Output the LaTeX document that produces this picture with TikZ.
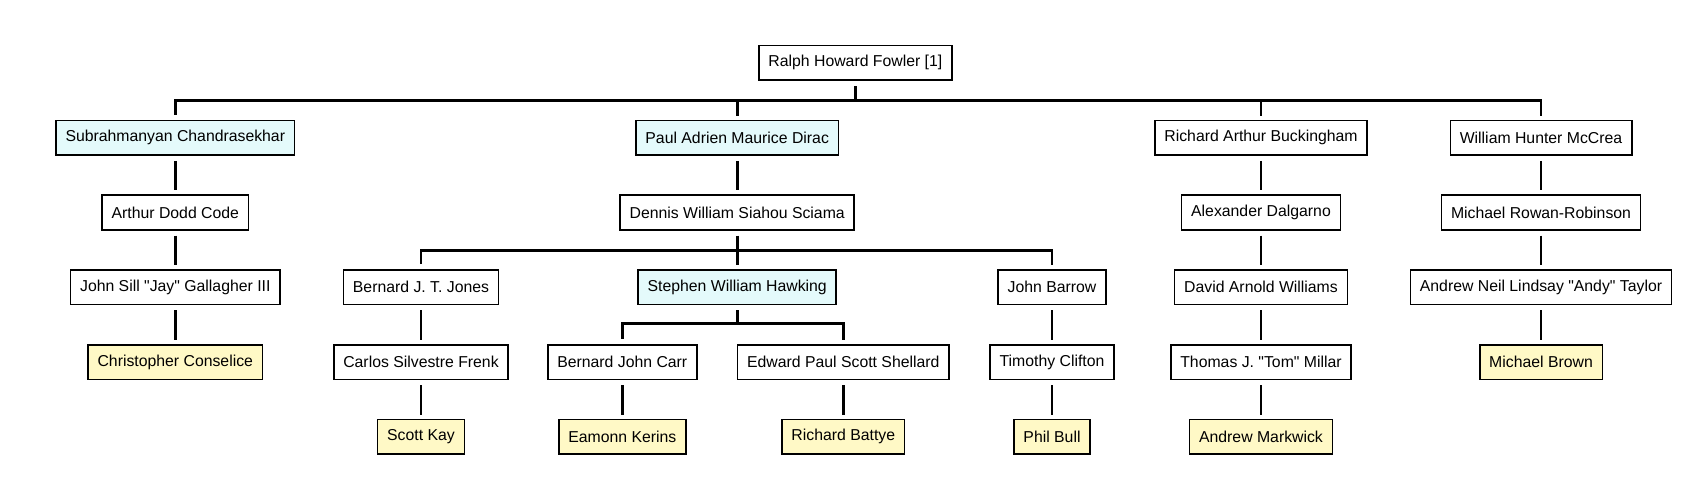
\documentclass[tikz,border=0pt]{standalone}
\usepackage{fontspec}
\setmainfont{Liberation Sans}[Ligatures=TeXOff]
\definecolor{cyanfill}{HTML}{E4FAFB}
\definecolor{yellowfill}{HTML}{FFF9C6}
\tikzset{
  person/.style={draw=black, line width=1.6pt, fill=white, minimum height=34.7pt,
    inner xsep=9.5pt, inner ysep=0pt, font=\fontsize{15.8}{19}\selectfont, anchor=center},
  hl/.style={person, fill=cyanfill},
  leaf/.style={person, fill=yellowfill},
  conn/.style={line width=2.8pt, shorten <=5pt, shorten >=4pt},
}
\begin{document}
\begin{tikzpicture}[x=1pt,y=-1pt]
\useasboundingbox (0,0) rectangle (1700,500);
% row 1
\node[person] (fowler) at (855.4,62.9) {Ralph Howard Fowler [1]};
% row 2
\node[hl] (chandra) at (175.3,137.7) {Subrahmanyan Chandrasekhar};
\node[hl] (dirac) at (737.2,137.7) {Paul Adrien Maurice Dirac};
\node[person] (buck) at (1261,137.7) {Richard Arthur Buckingham};
\node[person] (mccrea) at (1541,137.7) {William Hunter McCrea};
% row 3
\node[person] (code) at (175.3,212.5) {Arthur Dodd Code};
\node[person] (sciama) at (737.2,212.5) {Dennis William Siahou Sciama};
\node[person] (dalgarno) at (1261,212.5) {Alexander Dalgarno};
\node[person] (rowan) at (1541,212.5) {Michael Rowan-Robinson};
% row 4
\node[person] (gallagher) at (175.3,287.3) {John Sill "Jay" Gallagher III};
\node[person] (jones) at (421,287.3) {Bernard J. T. Jones};
\node[hl] (hawking) at (737.2,287.3) {Stephen William Hawking};
\node[person] (barrow) at (1052,287.3) {John Barrow};
\node[person] (williams) at (1261,287.3) {David Arnold Williams};
\node[person] (taylor) at (1541,287.3) {Andrew Neil Lindsay "Andy" Taylor};
% row 5
\node[leaf] (conselice) at (175.3,362.1) {Christopher Conselice};
\node[person] (frenk) at (421,362.1) {Carlos Silvestre Frenk};
\node[person] (carr) at (622.3,362.1) {Bernard John Carr};
\node[person] (shellard) at (843.3,362.1) {Edward Paul Scott Shellard};
\node[person] (clifton) at (1052,362.1) {Timothy Clifton};
\node[person] (millar) at (1261,362.1) {Thomas J. "Tom" Millar};
\node[leaf] (brown) at (1541,362.1) {Michael Brown};
% row 6
\node[leaf] (kay) at (421,436.9) {Scott Kay};
\node[leaf] (kerins) at (622.3,436.9) {Eamonn Kerins};
\node[leaf] (battye) at (843.3,436.9) {Richard Battye};
\node[leaf] (bull) at (1052,436.9) {Phil Bull};
\node[leaf] (markwick) at (1261,436.9) {Andrew Markwick};
% bus levels
\coordinate (b1) at (0,100.8);
\coordinate (b2) at (0,250.5);
\coordinate (b3) at (0,323.1);
% Fowler's students
\draw[conn, shorten >=0pt] (fowler) -- (fowler|-b1);
\draw[conn] (chandra) |- (mccrea|-b1) -- (mccrea);
\draw[conn, shorten <=0pt] (dirac|-b1) -- (dirac);
\draw[conn, shorten <=0pt] (buck|-b1) -- (buck);
% Sciama's students
\draw[conn, shorten >=0pt] (sciama) -- (sciama|-b2);
\draw[conn] (jones) |- (barrow|-b2) -- (barrow);
\draw[conn, shorten <=0pt] (hawking|-b2) -- (hawking);
% Hawking's students
\draw[conn, shorten >=0pt] (hawking) -- (hawking|-b3);
\draw[conn] (carr) |- (shellard|-b3) -- (shellard);
% chains
\draw[conn] (chandra) -- (code);
\draw[conn] (code) -- (gallagher);
\draw[conn] (gallagher) -- (conselice);
\draw[conn] (dirac) -- (sciama);
\draw[conn] (jones) -- (frenk);
\draw[conn] (frenk) -- (kay);
\draw[conn] (carr) -- (kerins);
\draw[conn] (shellard) -- (battye);
\draw[conn] (barrow) -- (clifton);
\draw[conn] (clifton) -- (bull);
\draw[conn] (buck) -- (dalgarno);
\draw[conn] (dalgarno) -- (williams);
\draw[conn] (williams) -- (millar);
\draw[conn] (millar) -- (markwick);
\draw[conn] (mccrea) -- (rowan);
\draw[conn] (rowan) -- (taylor);
\draw[conn] (taylor) -- (brown);
\end{tikzpicture}
\end{document}
